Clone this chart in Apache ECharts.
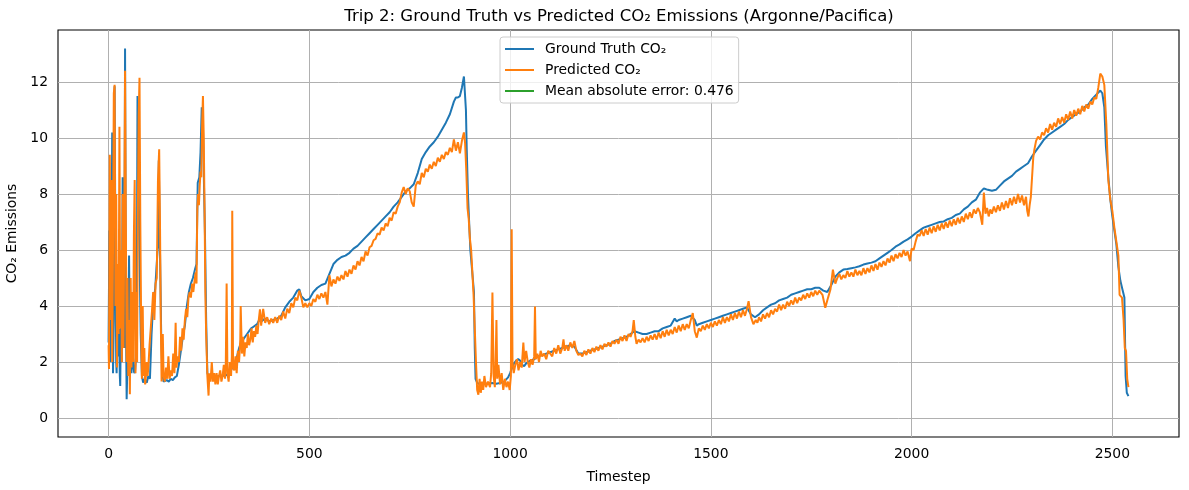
<!DOCTYPE html>
<html><head><meta charset="utf-8">
<script src="https://cdn.jsdelivr.net/npm/echarts@6/dist/echarts.min.js"></script>
<style>html,body{margin:0;padding:0;background:#fff}#c{width:1189px;height:490px}</style>
</head><body><div id="c"></div>
<script>
const titleText = 'Trip 2: Ground Truth vs Predicted CO₂ Emissions (Argonne/Pacifica)';
const seriesNames = ['Ground Truth CO₂', 'Predicted CO₂', 'Mean absolute error: 0.476'];
const xTicks = [0, 500, 1000, 1500, 2000, 2500];
const yTicks = [0, 2, 4, 6, 8, 10, 12];

// Ground truth, [timestep, value]
const gtStart = [[0,2.7],[2,6.7],[4,2.0],[7,5.0],[9,10.2],[11,1.6],[13,3.5],[15,11.85],[17,6.0],[19,2.0],[20,1.6],[22,5.0],[24,2.2],[26,3.2],[28,1.5],[29,1.14],[31,4.0],[33,2.0],[35,8.6],[37,3.0],[39,2.5],[41,13.2],[43,4.0],[45,0.67],[47,2.0],[49,2.45],[51,5.8],[53,2.0],[55,4.0],[57,1.6],[60,3.0],[62,1.8],[64,1.6],[66,1.7],[68,1.65],[70,2.5],[72,11.5],[74,9.6],[76,7.0],[78,5.0],[80,3.0],[83,1.5],[86,1.26],[90,1.4],[95,1.26],[99,1.5],[103,1.4],[107,3.0],[110,3.8],[113,4.3],[116,4.6],[119,5.3],[122,6.0],[124,6.2],[125,9.2],[127,7.0],[129,5.0],[131,3.0],[134,1.6],[137,1.3],[140,1.26],[145,1.35],[150,1.3],[155,1.4],[160,1.35],[165,1.45],[170,1.5],[175,1.9],[180,2.4],[185,2.9],[190,3.3],[195,4.0],[200,4.5],[205,4.8],[210,5.0],[215,5.3],[219,5.5],[222,8.4],[226,8.6],[229,9.5],[232,11.1],[235,10.5],[238,8.0],[240,6.6],[243,3.5],[246,1.6],[250,1.45],[255,1.5],[260,1.45],[265,1.5],[270,1.48],[275,1.5],[280,1.5],[285,1.52],[290,1.5],[295,1.55],[300,1.6],[305,1.7],[310,1.85],[315,2.0],[320,2.2],[325,2.5],[330,2.7],[335,2.8],[340,2.9],[345,3.0],[350,3.1],[355,3.2],[360,3.25],[365,3.3],[370,3.35],[375,3.5],[380,3.45]];
const gtRamp1 = [[390,3.55],[400,3.45],[410,3.5],[420,3.55],[430,3.65],[440,3.95],[450,4.15],[460,4.3],[470,4.55],[475,4.6],[480,4.35],[490,4.2],[500,4.25],[510,4.5],[520,4.65],[530,4.75],[540,4.8],[550,5.15],[560,5.5],[570,5.65],[580,5.75],[590,5.8],[600,5.9],[610,6.05],[620,6.15],[630,6.3],[640,6.45],[650,6.6],[660,6.75],[670,6.9],[680,7.05],[690,7.2],[700,7.35],[710,7.55],[720,7.7],[730,7.9],[740,8.1],[750,8.2],[760,8.35],[770,8.75],[780,9.25],[790,9.5],[800,9.7],[810,9.85],[820,10.05],[830,10.3],[840,10.55],[850,10.85],[860,11.3],[865,11.45],[870,11.45],[875,11.5],[880,11.8],[885,12.2],[888,12.15],[890,11.0],[892,9.6],[895,8.0],[898,7.0],[901,6.0],[904,5.5],[907,5.0],[910,4.5],[912,2.5],[914,1.4],[918,1.25]];
const gtRamp2 = [[925,1.2],[935,1.22],[945,1.22],[955,1.25],[965,1.22],[975,1.25],[985,1.3],[995,1.45],[1000,1.6],[1005,1.8],[1010,1.95],[1015,2.05],[1020,2.1],[1025,2.05],[1030,1.9],[1035,1.85],[1040,1.95],[1050,2.05],[1060,2.1],[1070,2.2],[1080,2.25],[1090,2.3],[1100,2.35],[1110,2.4],[1120,2.45],[1130,2.5],[1140,2.55],[1150,2.6],[1160,2.55],[1170,2.3],[1180,2.3],[1190,2.35],[1200,2.4],[1210,2.45],[1220,2.5],[1230,2.55],[1240,2.6],[1250,2.65],[1260,2.75],[1270,2.8],[1280,2.85],[1290,2.9],[1300,3.0],[1310,3.1],[1320,3.05],[1330,3.0],[1340,3.0],[1350,3.05],[1360,3.1],[1370,3.1],[1380,3.2],[1390,3.25],[1400,3.3],[1410,3.55],[1415,3.45],[1420,3.5],[1430,3.55],[1440,3.6],[1450,3.65],[1460,3.5],[1465,3.3],[1470,3.35],[1480,3.4],[1490,3.45],[1500,3.5],[1510,3.55],[1520,3.6],[1530,3.65],[1540,3.7],[1550,3.75],[1560,3.8],[1570,3.85],[1580,3.9],[1590,3.95],[1600,3.7],[1610,3.6],[1620,3.7],[1630,3.85],[1640,3.95],[1650,4.05],[1660,4.1],[1670,4.2],[1680,4.25],[1690,4.3],[1700,4.4],[1710,4.45],[1720,4.5],[1730,4.55],[1740,4.6],[1750,4.6],[1760,4.65],[1770,4.65],[1780,4.55],[1790,4.5],[1800,4.75],[1810,5.05],[1820,5.2],[1830,5.3],[1840,5.32],[1850,5.35],[1860,5.38],[1870,5.42],[1880,5.48],[1890,5.52],[1900,5.55],[1910,5.6],[1920,5.7],[1930,5.8],[1940,5.9],[1950,6.0],[1960,6.12],[1970,6.2],[1980,6.3],[1990,6.38],[2000,6.48],[2010,6.6],[2020,6.7],[2030,6.8],[2040,6.85],[2050,6.9],[2060,6.95],[2070,7.0],[2080,7.02],[2090,7.1],[2100,7.15],[2110,7.25],[2120,7.3],[2130,7.45],[2140,7.55],[2150,7.7],[2160,7.8],[2170,8.05],[2180,8.2],[2190,8.15],[2200,8.12],[2210,8.15],[2220,8.3],[2230,8.45],[2240,8.55],[2250,8.65],[2260,8.8],[2270,8.9],[2280,9.0],[2290,9.1],[2300,9.35],[2310,9.55],[2320,9.75],[2330,9.95],[2340,10.1],[2350,10.2],[2360,10.3],[2370,10.4],[2380,10.5],[2390,10.65],[2400,10.75],[2410,10.85],[2420,10.95],[2430,11.1],[2440,11.2],[2450,11.4],[2460,11.55],[2470,11.7],[2475,11.6],[2480,11.1],[2484,9.7],[2490,8.6],[2495,7.8],[2500,7.2],[2505,6.7],[2510,6.2],[2515,5.4],[2520,4.9],[2525,4.6],[2530,4.3],[2533,1.5],[2536,0.9],[2540,0.78]];

// Predicted, [timestep, value]
const predStart = [[0,2.6],[1,1.75],[3,9.4],[5,3.5],[7,8.5],[9,2.0],[11,6.0],[13,11.6],[15,11.9],[17,4.0],[19,8.0],[21,1.8],[23,5.5],[25,3.0],[27,10.4],[29,3.2],[31,6.0],[33,2.0],[35,8.0],[37,2.5],[39,6.5],[41,12.4],[43,7.0],[45,2.0],[47,5.0],[49,1.5],[51,3.5],[53,0.85],[55,5.0],[57,1.8],[59,4.5],[61,2.0],[63,6.5],[65,8.5],[67,1.6],[69,4.5],[71,2.0],[73,7.5],[75,10.8],[77,12.15],[79,7.0],[81,3.5],[83,1.4],[85,4.0],[87,1.5],[89,2.5],[91,1.2],[93,1.5],[95,2.0],[97,1.5],[99,1.8],[102,2.6],[105,3.2],[108,3.8],[111,4.5],[114,3.5],[117,4.8],[120,5.0],[123,8.5],[126,9.6],[128,7.0],[130,3.5],[132,1.3],[135,3.0],[137,1.5],[140,1.3],[143,1.8],[146,1.4],[149,2.2],[152,1.4],[155,1.7],[158,1.5],[161,2.3],[164,1.6],[167,3.4],[169,1.8],[172,2.2],[175,2.0],[178,2.9],[181,2.4],[184,3.2],[187,2.8],[190,3.5],[193,3.9],[196,3.6],[199,4.3],[202,4.5],[205,4.3],[208,4.8],[211,4.5],[214,4.9],[217,5.2],[219,4.8],[221,7.5],[223,8.0],[225,7.6],[227,8.3],[229,8.8],[231,8.6],[233,10.5],[235,11.5],[237,10.0],[239,7.5],[241,4.5],[243,3.0],[246,1.5],[249,0.8],[251,1.6],[254,1.3],[257,2.0],[260,1.3],[263,1.6],[266,1.2],[269,1.6],[272,1.2],[275,1.5],[278,1.7],[281,1.3],[284,1.5],[287,1.9],[290,1.4],[292,2.0],[294,4.8],[296,1.6],[299,1.3],[302,2.0],[305,1.5],[307,2.2],[308,7.4],[310,1.8],[313,1.7],[316,2.2],[319,1.6],[322,2.4],[325,2.0],[328,2.8],[329,4.0],[332,2.3],[335,2.9],[338,2.2],[341,2.7],[344,2.5],[347,3.0],[350,2.6],[353,2.8],[356,3.2],[359,2.7],[362,3.1],[365,2.9],[368,3.3],[371,3.0],[374,3.5],[377,3.88],[380,3.3]];
const predRamp1 = [[385,3.9],[390,3.4],[395,3.6],[400,3.35],[405,3.55],[410,3.4],[415,3.6],[420,3.4],[425,3.65],[430,3.5],[435,3.8],[440,3.55],[445,3.9],[450,3.75],[455,4.1],[460,3.95],[465,4.3],[470,4.2],[475,4.55],[480,4.3],[485,3.95],[490,4.1],[495,3.95],[500,4.1],[505,4.0],[510,4.25],[515,4.15],[520,4.4],[525,4.25],[530,4.45],[535,4.3],[540,4.5],[545,4.05],[550,5.1],[555,4.7],[560,4.95],[565,4.8],[570,5.05],[575,4.9],[580,5.1],[585,4.95],[590,5.25],[595,5.05],[600,5.3],[605,5.15],[610,5.45],[615,5.3],[620,5.6],[625,5.45],[630,5.75],[635,5.6],[640,5.95],[645,5.8],[650,6.1],[655,6.15],[660,6.35],[665,6.4],[670,6.6],[675,6.55],[680,6.8],[685,6.7],[690,6.95],[695,6.85],[700,7.15],[705,7.05],[710,7.35],[715,7.3],[720,7.55],[725,7.7],[730,8.05],[735,8.25],[740,8.0],[745,8.2],[750,8.1],[755,7.7],[760,7.55],[765,8.3],[770,8.45],[775,8.35],[780,8.75],[785,8.6],[790,8.9],[795,8.8],[800,9.05],[805,8.9],[810,9.15],[815,9.0],[820,9.3],[825,9.15],[830,9.4],[835,9.25],[840,9.5],[845,9.4],[850,9.65],[855,9.5],[860,9.95],[865,9.55],[870,9.85],[875,9.45],[880,9.9],[885,10.2],[888,9.8],[891,8.8],[894,7.5],[897,7.1],[900,6.4],[903,6.0],[906,5.2],[909,4.4],[912,3.2],[915,2.0],[918,1.0],[921,0.83]];
const predRamp2 = [[924,1.4],[927,0.9],[930,1.3],[933,1.0],[936,1.5],[940,1.1],[945,1.3],[950,1.1],[953,1.6],[956,4.48],[959,1.5],[962,1.1],[964,2.0],[966,3.5],[968,1.4],[971,1.9],[975,1.2],[979,1.6],[983,1.0],[987,1.4],[991,1.1],[995,1.3],[999,1.0],[1002,1.5],[1004,6.74],[1006,2.0],[1009,1.6],[1013,1.9],[1017,2.1],[1021,1.7],[1025,2.0],[1029,1.8],[1033,2.69],[1036,2.0],[1040,2.4],[1044,2.0],[1048,1.8],[1052,2.1],[1056,1.9],[1060,2.2],[1062,3.98],[1064,2.1],[1068,2.3],[1072,2.0],[1076,2.4],[1080,2.2],[1085,2.3],[1090,2.1],[1095,2.4],[1100,2.3],[1105,2.2],[1110,2.5],[1115,2.3],[1120,2.6],[1125,2.3],[1130,2.5],[1133,2.81],[1136,2.4],[1140,2.6],[1145,2.4],[1150,2.7],[1155,2.5],[1160,2.75],[1165,2.4],[1170,2.25],[1175,2.3],[1180,2.2],[1185,2.4],[1190,2.25],[1195,2.45],[1200,2.3],[1205,2.5],[1210,2.35],[1215,2.55],[1220,2.4],[1225,2.6],[1230,2.45],[1235,2.65],[1240,2.55],[1245,2.7],[1250,2.55],[1255,2.75],[1260,2.65],[1265,2.8],[1270,2.65],[1275,2.9],[1280,2.75],[1285,2.95],[1290,2.75],[1295,3.0],[1300,2.9],[1305,3.1],[1308,3.5],[1312,2.9],[1315,2.65],[1320,2.8],[1325,2.7],[1330,2.85],[1335,2.7],[1340,2.9],[1345,2.75],[1350,2.95],[1355,2.8],[1360,3.0],[1365,2.8],[1370,3.05],[1375,2.85],[1380,3.1],[1385,2.9],[1390,3.15],[1395,2.95],[1400,3.15],[1405,3.0],[1410,3.25],[1415,3.05],[1420,3.3],[1425,3.1],[1430,3.35],[1435,3.15],[1440,3.35],[1445,3.2],[1450,3.5],[1455,3.75],[1460,3.1],[1465,2.87],[1470,3.2],[1475,3.1],[1480,3.3],[1485,3.15],[1490,3.35],[1495,3.2],[1500,3.4],[1505,3.25],[1510,3.45],[1515,3.3],[1520,3.5],[1525,3.35],[1530,3.6],[1535,3.4],[1540,3.6],[1545,3.45],[1550,3.7],[1555,3.5],[1560,3.75],[1565,3.55],[1570,3.8],[1575,3.6],[1580,3.85],[1585,3.65],[1590,3.9],[1594,4.17],[1600,3.6],[1606,3.35],[1612,3.5],[1616,3.4],[1620,3.6],[1625,3.45],[1630,3.7],[1635,3.55],[1640,3.75],[1645,3.6],[1650,3.85],[1655,3.7],[1660,3.9],[1665,3.8],[1670,4.05],[1675,3.85],[1680,4.05],[1685,3.9],[1690,4.15],[1695,4.0],[1700,4.2],[1705,4.05],[1710,4.3],[1715,4.1],[1720,4.3],[1725,4.2],[1730,4.4],[1735,4.25],[1740,4.45],[1745,4.3],[1750,4.5],[1755,4.35],[1760,4.55],[1765,4.4],[1770,4.55],[1778,4.4],[1785,3.94],[1792,4.3],[1798,4.6],[1804,5.3],[1810,4.8],[1815,5.0],[1820,5.15],[1825,4.95],[1830,5.1],[1835,5.0],[1840,5.25],[1845,5.05],[1850,5.2],[1855,5.05],[1860,5.3],[1865,5.1],[1870,5.25],[1875,5.1],[1880,5.35],[1885,5.15],[1890,5.35],[1895,5.2],[1900,5.45],[1905,5.25],[1910,5.5],[1915,5.3],[1920,5.55],[1925,5.4],[1930,5.6],[1935,5.45],[1940,5.7],[1945,5.55],[1950,5.8],[1955,5.6],[1960,5.85],[1965,5.7],[1970,5.9],[1975,5.75],[1980,6.0],[1985,5.8],[1990,5.95],[1996,5.6],[2000,6.05],[2005,6.0],[2010,6.3],[2015,6.55],[2020,6.5],[2025,6.7],[2030,6.5],[2035,6.75],[2040,6.55],[2045,6.8],[2050,6.6],[2055,6.85],[2060,6.65],[2065,6.9],[2070,6.7],[2075,6.95],[2080,6.75],[2085,7.0],[2090,6.8],[2095,7.05],[2100,6.85],[2105,7.1],[2110,6.9],[2115,7.15],[2120,6.95],[2125,7.2],[2130,7.0],[2135,7.3],[2140,7.1],[2145,7.35],[2150,7.15],[2155,7.45],[2160,7.3],[2165,7.5],[2170,7.35],[2176,6.9],[2180,8.05],[2184,7.3],[2188,7.5],[2192,7.2],[2196,7.45],[2200,7.3],[2205,7.55],[2210,7.35],[2215,7.6],[2220,7.4],[2225,7.7],[2230,7.45],[2235,7.75],[2240,7.5],[2245,7.85],[2250,7.6],[2255,7.9],[2260,7.65],[2265,8.0],[2270,7.7],[2275,7.95],[2280,7.6],[2285,7.9],[2288,7.4],[2291,7.2],[2294,7.6],[2297,7.9],[2300,8.6],[2303,9.3],[2306,9.6],[2310,9.9],[2315,10.05],[2320,9.95],[2325,10.2],[2330,10.1],[2335,10.35],[2340,10.2],[2345,10.5],[2350,10.3],[2355,10.55],[2360,10.4],[2365,10.7],[2370,10.5],[2375,10.75],[2380,10.55],[2385,10.85],[2390,10.65],[2395,10.95],[2400,10.7],[2405,11.0],[2410,10.8],[2415,11.05],[2420,10.85],[2425,11.15],[2430,10.95],[2435,11.2],[2440,11.05],[2445,11.3],[2450,11.2],[2455,11.45],[2460,11.4],[2465,11.8],[2470,12.3],[2475,12.2],[2480,11.9],[2485,10.5],[2490,8.5],[2495,7.8],[2500,7.4],[2505,6.8],[2510,6.3],[2515,5.8],[2518,4.4],[2524,4.3],[2528,3.5],[2531,2.5],[2534,2.4],[2537,1.4],[2540,1.1]];

const groundTruth = gtStart.concat(gtRamp1, gtRamp2);
const predicted = predStart.concat(predRamp1, predRamp2);

const FONT = 'DejaVu Sans';
const chart = echarts.init(document.getElementById('c'), null, {renderer: 'canvas'});
chart.setOption({
  animation: false,
  backgroundColor: '#fff',
  textStyle: {fontFamily: FONT},
  title: {
    text: titleText, left: 614, top: 3, textAlign: 'center',
    textStyle: {fontSize: 16.5, fontWeight: 'normal', color: '#000', fontFamily: FONT}
  },
  legend: {
    data: seriesNames, orient: 'vertical', left: 500, top: 37,
    padding: [5, 5, 5, 5], itemWidth: 29, itemHeight: 2, itemGap: 7, icon: 'rect',
    backgroundColor: 'rgba(255,255,255,0.8)', borderColor: '#cccccc', borderWidth: 1, borderRadius: 3,
    selectedMode: false, z: 10,
    textStyle: {fontSize: 13.9, lineHeight: 14, color: '#000', fontFamily: FONT, padding: [0, 0, 0, 6]}
  },
  grid: {left: 58, right: 10, top: 30, bottom: 53, show: true, borderColor: '#000', borderWidth: 1.1,
    backgroundColor: 'transparent', outerBoundsMode: 'none', containLabel: false},
  xAxis: {
    type: 'value', min: -126, max: 2666,
    name: 'Timestep', nameLocation: 'middle', nameGap: 33,
    nameTextStyle: {fontSize: 13.9, color: '#000', fontFamily: FONT},
    axisLine: {show: false},
    axisTick: {show: true, length: 5, lineStyle: {color: '#000', width: 1}, customValues: xTicks},
    axisLabel: {customValues: xTicks, fontSize: 13.9, color: '#000', margin: 10, fontFamily: FONT,
      formatter: v => String(v)},
    splitLine: {show: false}
  },
  yAxis: {
    type: 'value', min: -0.68, max: 13.86,
    name: 'CO₂ Emissions', nameLocation: 'middle', nameGap: 35, nameRotate: 90,
    nameTextStyle: {fontSize: 13.9, color: '#000', fontFamily: FONT},
    axisLine: {show: false},
    axisTick: {show: true, length: 5, lineStyle: {color: '#000', width: 1}, customValues: yTicks},
    axisLabel: {customValues: yTicks, fontSize: 13.9, color: '#000', margin: 10, fontFamily: FONT,
      formatter: v => String(v)},
    splitLine: {show: false}
  },
  series: [
    {
      name: '_grid', type: 'line', data: [], silent: true, z: 1,
      markLine: {
        silent: true, symbol: ['none', 'none'], animation: false, z: 1,
        label: {show: false}, emphasis: {disabled: true},
        lineStyle: {color: '#b0b0b0', width: 1, type: 'solid'},
        data: xTicks.map(v => ({xAxis: v})).concat(yTicks.map(v => ({yAxis: v})))
      }
    },
    {
      name: seriesNames[0], type: 'line', data: groundTruth, symbol: 'none', showSymbol: false,
      z: 3, color: '#1f77b4', lineStyle: {color: '#1f77b4', width: 2}, emphasis: {disabled: true}
    },
    {
      name: seriesNames[1], type: 'line', data: predicted, symbol: 'none', showSymbol: false,
      z: 4, color: '#ff7f0e', lineStyle: {color: '#ff7f0e', width: 2}, emphasis: {disabled: true}
    },
    {
      name: seriesNames[2], type: 'line', data: [], symbol: 'none', showSymbol: false,
      z: 5, color: '#2ca02c', lineStyle: {color: '#2ca02c', width: 2}
    }
  ]
});
</script>
</body></html>
